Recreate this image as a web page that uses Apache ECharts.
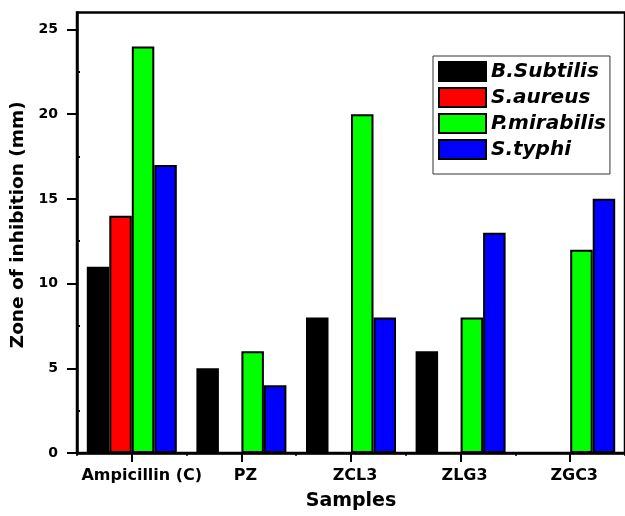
<!DOCTYPE html>
<html>
<head>
<meta charset="utf-8">
<script src="https://cdn.jsdelivr.net/npm/echarts@6/dist/echarts.min.js"></script>
<style>
html,body{margin:0;padding:0;background:#fff;}
#chart{width:625px;height:516px;}
</style>
</head>
<body>
<div id="chart"></div>
<script>
var categories = ['Ampicillin (C)', 'PZ', 'ZCL3', 'ZLG3', 'ZGC3'];
var seriesNames = ['B.Subtilis', 'S.aureus', 'P.mirabilis', 'S.typhi'];
var bSubtilis = [11, 5, 8, 6, 0];
var sAureus = [14, 0, 0, 0, 0];
var pMirabilis = [24, 6, 20, 8, 12];
var sTyphi = [17, 4, 8, 13, 15];
var yTicks = [0, 5, 10, 15, 20, 25];
var yMinorTicks = [2.5, 7.5, 12.5, 17.5, 22.5];

var colors = ['#000000', '#ff0000', '#00ff00', '#0000ff'];
var values = [bSubtilis, sAureus, pMirabilis, sTyphi];
var FONT = 'DejaVu Sans';

var chart = echarts.init(document.getElementById('chart'), null, {renderer: 'canvas'});

var series = seriesNames.map(function (name, i) {
  return {
    name: name,
    type: 'bar',
    xAxisIndex: 0,
    yAxisIndex: 0,
    data: values[i],
    barWidth: 22.5,
    barGap: '0%',
    itemStyle: {color: colors[i], borderColor: '#000', borderWidth: 2},
    emphasis: {disabled: true}
  };
});

var labelBase = {fontFamily: FONT, fontSize: 16, fontWeight: 'bold', color: '#000'};

chart.setOption({
  animation: false,
  backgroundColor: '#fff',
  grid: {
    left: 77, top: 12.5, width: 552, bottom: 61.5,
    show: true, borderColor: '#000', borderWidth: 2.5, backgroundColor: 'transparent',
    containLabel: false
  },
  legend: {
    orient: 'vertical',
    left: 433, top: 56,
    padding: [5, 4, 14, 5],
    itemWidth: 47, itemHeight: 19, itemGap: 5,
    icon: 'rect',
    backgroundColor: '#fff',
    borderColor: '#333', borderWidth: 1,
    textStyle: {fontFamily: FONT, fontSize: 20, fontWeight: 'bold', fontStyle: 'italic', color: '#000'},
    data: seriesNames
  },
  xAxis: [{
    type: 'category',
    data: categories,
    position: 'bottom',
    name: 'Samples',
    nameLocation: 'middle',
    nameGap: 39,
    nameTextStyle: {fontFamily: FONT, fontSize: 19, fontWeight: 'bold', color: '#000'},
    axisLine: {show: true, lineStyle: {color: '#000', width: 2.5}},
    axisTick: {show: true, alignWithLabel: true, length: 9, lineStyle: {color: '#000', width: 2}},
    axisLabel: {
      fontFamily: FONT, fontSize: 16, fontWeight: 'bold', color: '#000', margin: 15, interval: 0,
      formatter: function (v, i) { return (i === 0 ? '{a|' : '{b|') + v + '}'; },
      rich: {
        a: Object.assign({padding: [0, 0, 0, 20]}, labelBase),
        b: Object.assign({padding: [0, 0, 0, 8]}, labelBase)
      }
    },
    splitLine: {show: false}
  }, {
    type: 'category',
    data: categories,
    position: 'bottom',
    axisLine: {show: false},
    axisTick: {show: true, alignWithLabel: false, length: 3, lineStyle: {color: '#000', width: 1.5}},
    axisLabel: {show: false},
    splitLine: {show: false}
  }],
  yAxis: [{
    type: 'value',
    min: 0, max: 26, interval: 5,
    position: 'left',
    name: 'Zone of inhibition (mm)',
    nameLocation: 'middle',
    nameGap: 49,
    nameTextStyle: {fontFamily: FONT, fontSize: 18.5, fontWeight: 'bold', color: '#000', padding: [0, 0, 0, 16]},
    axisLine: {show: true, lineStyle: {color: '#000', width: 2.5}},
    axisTick: {show: true, length: 10, lineStyle: {color: '#000', width: 2}, customValues: yTicks},
    axisLabel: {fontFamily: FONT, fontSize: 14, fontWeight: 'bold', color: '#000', margin: 19, customValues: yTicks},
    splitLine: {show: false}
  }, {
    type: 'value',
    min: 0, max: 26, interval: 5,
    position: 'left',
    axisLine: {show: false},
    axisTick: {show: true, inside: true, length: 3, lineStyle: {color: '#000', width: 2}, customValues: yMinorTicks},
    axisLabel: {show: false},
    splitLine: {show: false}
  }],
  series: series
});
</script>
</body>
</html>
